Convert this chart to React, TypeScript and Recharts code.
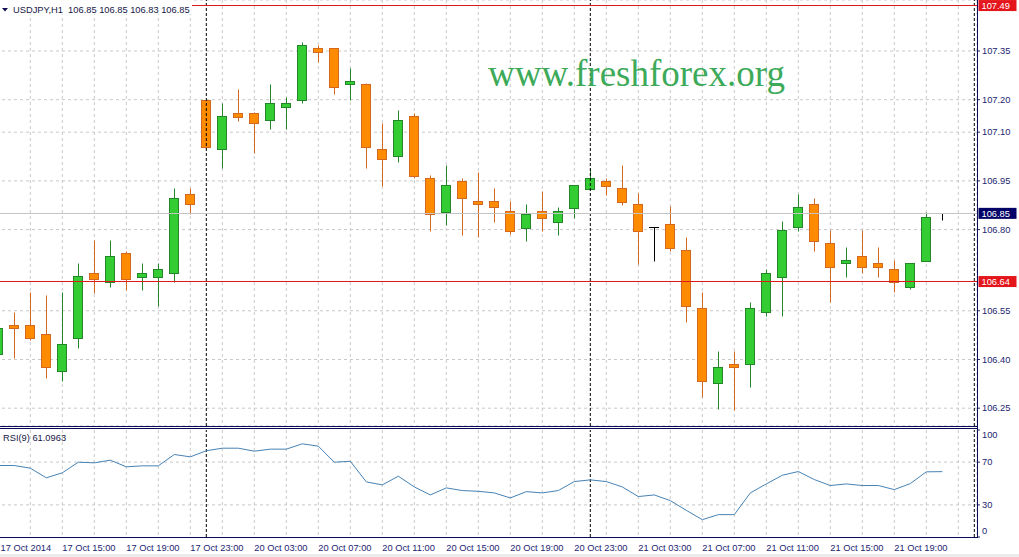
import React from 'react';
import { ComposedChart, Bar, Line, XAxis, YAxis, CartesianGrid, ReferenceLine } from 'recharts';

// ---------- data (USDJPY H1, 17 Oct 2014 11:00 .. 21 Oct 2014 22:00) ----------
const symbol = 'USDJPY,H1';
const rsiPeriod = 9;

const opens = [
  106.417, 106.506, 106.506, 106.478, 106.365, 106.465, 106.665, 106.638, 106.727, 106.655,
  106.655, 106.665, 106.910, 107.199, 107.047, 107.158, 107.158, 107.137, 107.177, 107.198,
  107.358, 107.358, 107.247, 107.248, 107.048, 107.028, 107.150, 106.958, 106.855, 106.950,
  106.888, 106.888, 106.857, 106.806, 106.857, 106.824, 106.867, 106.925, 106.950, 106.927,
  106.878, 106.807, 106.817, 106.737, 106.558, 106.327, 106.386, 106.385, 106.545, 106.655,
  106.807, 106.879, 106.758, 106.696, 106.719, 106.698, 106.678, 106.624, 106.704, 106.85,
];
const highs = [
  106.506, 106.547, 106.609, 106.599, 106.609, 106.696, 106.768, 106.768, 106.734, 106.696,
  106.696, 106.927, 106.927, 107.202, 107.191, 107.232, 107.162, 107.248, 107.207, 107.377,
  107.369, 107.360, 107.297, 107.250, 107.129, 107.168, 107.158, 106.968, 106.999, 106.958,
  106.978, 106.929, 106.888, 106.879, 106.919, 106.870, 106.937, 106.989, 106.958, 106.999,
  106.912, 106.807, 106.873, 106.778, 106.609, 106.426, 106.426, 106.576, 106.679, 106.826,
  106.910, 106.896, 106.799, 106.745, 106.799, 106.745, 106.706, 106.696, 106.855, 106.85,
];
const lows = [
  106.408, 106.405, 106.460, 106.344, 106.335, 106.436, 106.606, 106.624, 106.614, 106.614,
  106.566, 106.639, 106.847, 107.047, 106.989, 107.135, 107.037, 107.109, 107.109, 107.189,
  107.317, 107.217, 107.198, 106.989, 106.935, 107.007, 106.958, 106.797, 106.814, 106.783,
  106.776, 106.824, 106.785, 106.766, 106.796, 106.783, 106.835, 106.922, 106.907, 106.876,
  106.694, 106.704, 106.735, 106.516, 106.283, 106.247, 106.244, 106.316, 106.535, 106.535,
  106.797, 106.735, 106.576, 106.655, 106.665, 106.655, 106.607, 106.616, 106.704, 106.83,
];
const closes = [
  106.497, 106.497, 106.465, 106.376, 106.448, 106.657, 106.647, 106.719, 106.647, 106.665,
  106.679, 106.896, 106.878, 107.055, 107.150, 107.148, 107.127, 107.189, 107.189, 107.369,
  107.348, 107.238, 107.258, 107.055, 107.016, 107.138, 106.966, 106.847, 106.937, 106.896,
  106.878, 106.869, 106.797, 106.848, 106.837, 106.857, 106.937, 106.958, 106.935, 106.886,
  106.797, 106.807, 106.744, 106.566, 106.335, 106.376, 106.376, 106.558, 106.665, 106.799,
  106.869, 106.766, 106.686, 106.706, 106.686, 106.686, 106.638, 106.696, 106.838, 106.85,
];
const rsiValues = [
  66.8, 66.8, 64.3, 55.3, 60.0, 69.9, 69.3, 71.8, 65.6, 66.5,
  66.5, 77.1, 74.9, 80.6, 83.0, 83.0, 80.2, 82.1, 82.1, 87.1,
  84.9, 69.9, 70.8, 51.5, 48.7, 56.8, 46.8, 39.3, 45.9, 43.4,
  42.7, 41.2, 36.5, 42.4, 41.2, 43.4, 51.8, 53.4, 51.8, 46.8,
  37.8, 39.3, 34.0, 24.9, 16.2, 20.9, 20.9, 41.2, 49.6, 57.7,
  61.2, 53.7, 48.1, 49.6, 48.1, 48.1, 44.3, 49.9, 60.9, 61.0963,
];

const labelBars = [0, 4, 8, 12, 16, 20, 24, 28, 32, 36, 40, 44, 48, 52, 56];
const labelTexts = [
  '17 Oct 2014', '17 Oct 15:00', '17 Oct 19:00', '17 Oct 23:00', '20 Oct 03:00',
  '20 Oct 07:00', '20 Oct 11:00', '20 Oct 15:00', '20 Oct 19:00', '20 Oct 23:00',
  '21 Oct 03:00', '21 Oct 07:00', '21 Oct 11:00', '21 Oct 15:00', '21 Oct 19:00',
];
const gridBars = [0, 2, 4, 6, 8, 10, 12, 14, 16, 18, 20, 22, 24, 26, 28, 30, 32, 34, 36, 38, 40, 42, 44, 46, 48, 50, 52, 54, 56, 58, 60];
const separatorBars = [13, 37, 61];
const priceTicks = [107.35, 107.2, 107.1, 106.95, 106.8, 106.55, 106.4, 106.25];
const rsiTicks = [0, 30, 70, 100];
const rsiGridLevels = [30, 70];
const lineLevels = [107.49, 106.64];
const bidPrice = 106.85;
const watermark = 'www.freshforex.org';

const candles = opens.map((o, k) => ({ k, o, h: highs[k], l: lows[k], c: closes[k], range: [lows[k], highs[k]] }));
const rsiData = rsiValues.map((v, k) => ({ k, rsi: v }));

// ---------- layout ----------
const W = 1019;
const H = 557;
const AXIS_W = 42;
const BAR_PX = 16;
const FIRST_CENTER = -1.7;
const PLOT_LEFT = -16;
const PLOT_RIGHT = W - AXIS_W;
const xDomain: [number, number] = [(PLOT_LEFT - FIRST_CENTER) / BAR_PX, (PLOT_RIGHT - FIRST_CENTER) / BAR_PX];
const MAIN_H = 426;
const priceDomain: [number, number] = [106.1951, 107.5071];
const RSI_TOP = 428;
const RSI_H = H - RSI_TOP;

const NAVY = '#1c2470';
const FONT = "'Liberation Sans', Arial, sans-serif";
const GRID = '#c8c8c8';

function Candle(props: any) {
  const { x, y, width, height, payload } = props;
  if (x == null || y == null || !payload) return <g />;
  const { o, h, l, c } = payload;
  const top = Math.min(y, y + height);
  const span = Math.abs(height);
  const py = (p: number) => (h === l ? top : top + ((h - p) / (h - l)) * span);
  const n = Math.floor(x + width / 2);
  const cx = n + 0.5;
  const snap = (v: number) => Math.round(v) + 0.5;
  const yH = snap(py(h));
  const yL = snap(py(l));
  const yO = snap(py(o));
  const yC = snap(py(c));
  if (o === c) {
    return (
      <g>
        <line x1={cx} x2={cx} y1={yH} y2={yL} stroke="#000" />
        <line x1={n - 5} x2={n + 5} y1={yO} y2={yO} stroke="#000" />
      </g>
    );
  }
  const bull = c > o;
  const stroke = bull ? '#23862a' : '#d2691e';
  const fill = bull ? '#33cc33' : '#ff8c00';
  const bt = Math.min(yO, yC);
  const bb = Math.max(yO, yC);
  return (
    <g>
      <line x1={cx} x2={cx} y1={yH} y2={yL} stroke={stroke} />
      <rect x={n - 4.5} y={bt} width={9} height={Math.max(bb - bt, 1)} fill={fill} stroke={stroke} />
    </g>
  );
}

function PriceTick(props: any) {
  const { x, y, payload } = props;
  return (
    <text x={x} y={y} dy="0.35em" fontSize={9.3} fontFamily={FONT} fill={NAVY} textAnchor="start">
      {Number(payload.value).toFixed(2)}
    </text>
  );
}

function RsiTick(props: any) {
  const { x, y, payload } = props;
  const v = Number(payload.value);
  const shift = v === 100 ? 5 : v === 0 ? -6 : 0;
  return (
    <text x={x} y={y + shift} dy="0.35em" fontSize={9.3} fontFamily={FONT} fill={NAVY} textAnchor="start">
      {String(v)}
    </text>
  );
}

function TimeTick(props: any) {
  const { x, y, payload } = props;
  const i = labelBars.indexOf(Number(payload.value));
  if (i < 0) return <g />;
  return (
    <text x={Math.max(x, 0.5)} y={y + 13.5} fontSize={9.3} fontFamily={FONT} fill={NAVY} textAnchor="start">
      {labelTexts[i]}
    </text>
  );
}

function LevelBox(props: any) {
  const { viewBox, text, bg } = props;
  if (!viewBox) return <g />;
  const x = viewBox.x + viewBox.width + 1.5;
  const y = viewBox.y;
  return (
    <g>
      <rect x={x} y={y - 5.5} width={38} height={11} fill={bg} />
      <text x={x + 3} y={y} dy="0.35em" fontSize={9.3} fontFamily={FONT} fill="#ffffff">
        {text}
      </text>
    </g>
  );
}

export default function App() {
  const last = candles[candles.length - 1];
  const header = `${symbol}  ${last.o.toFixed(2)} ${last.h.toFixed(2)} ${last.l.toFixed(2)} ${last.c.toFixed(2)}`;
  const rsiLabel = `RSI(${rsiPeriod}) ${rsiValues[rsiValues.length - 1].toFixed(4)}`;
  return (
    <div style={{ position: 'absolute', left: 0, top: 0, width: W, height: H, background: '#ffffff', overflow: 'hidden' }}>
      <div style={{ position: 'absolute', left: 0, top: 0 }}>
        <ComposedChart width={W} height={MAIN_H} data={candles} margin={{ top: 0, right: 0, bottom: 0, left: PLOT_LEFT }}>
          <CartesianGrid stroke={GRID} strokeDasharray="3 3" />
          <XAxis
            dataKey="k"
            type="number"
            domain={xDomain}
            allowDataOverflow
            ticks={gridBars}
            interval={0}
            hide
          />
          <YAxis
            orientation="right"
            width={AXIS_W}
            type="number"
            domain={priceDomain}
            allowDataOverflow
            ticks={priceTicks}
            interval={0}
            axisLine={false}
            tickLine={{ stroke: NAVY }}
            tickSize={3}
            tickMargin={2}
            tick={<PriceTick />}
          />
          {separatorBars.map((b) => (
            <ReferenceLine key={`s${b}`} x={b} stroke="#000000" strokeDasharray="3 2" />
          ))}
          <ReferenceLine
            y={bidPrice}
            stroke="#c4c4c4"
            shapeRendering="crispEdges"
            label={<LevelBox text={bidPrice.toFixed(2)} bg="#000066" />}
          />
          {lineLevels.map((lv) => (
            <ReferenceLine
              key={`l${lv}`}
              y={lv}
              stroke="#e01818"
              shapeRendering="crispEdges"
              label={<LevelBox text={lv.toFixed(2)} bg="#e4151b" />}
            />
          ))}
          <Bar dataKey="range" barSize={10} isAnimationActive={false} shape={(p: any) => <Candle {...p} />} />
        </ComposedChart>
      </div>
      <div style={{ position: 'absolute', left: 0, top: RSI_TOP }}>
        <ComposedChart width={W} height={RSI_H} data={rsiData} margin={{ top: 2, right: 0, bottom: 0, left: PLOT_LEFT }}>
          <CartesianGrid stroke={GRID} strokeDasharray="3 3" horizontal={false} />
          <XAxis
            dataKey="k"
            type="number"
            domain={xDomain}
            allowDataOverflow
            ticks={gridBars}
            interval={0}
            height={20}
            axisLine={false}
            tickLine={false}
            tickSize={0}
            tickMargin={0}
            tick={<TimeTick />}
          />
          <YAxis
            orientation="right"
            width={AXIS_W}
            type="number"
            domain={[0, 100]}
            ticks={rsiTicks}
            interval={0}
            axisLine={false}
            tickLine={{ stroke: NAVY }}
            tickSize={3}
            tickMargin={2}
            tick={<RsiTick />}
          />
          {rsiGridLevels.map((lv) => (
            <ReferenceLine key={`g${lv}`} y={lv} stroke={GRID} strokeDasharray="3 3" />
          ))}
          {separatorBars.map((b) => (
            <ReferenceLine key={`s${b}`} x={b} stroke="#000000" strokeDasharray="3 2" />
          ))}
          <Line dataKey="rsi" type="linear" stroke="#4682b4" strokeWidth={1} dot={false} isAnimationActive={false} />
        </ComposedChart>
      </div>
      <svg width={W} height={H} style={{ position: 'absolute', left: 0, top: 0, pointerEvents: 'none' }}>
        <rect x={0} y={0} width={192} height={14} fill="#ffffff" />
        <polygon points="2,8 8,8 5,11.5" fill="#101050" />
        <text x={13} y={13} fontSize={9.3} fontFamily={FONT} fill="#151545" xmlSpace="preserve" style={{ whiteSpace: 'pre' }}>{header}</text>
        <text x={3} y={441} fontSize={9.3} fontFamily={FONT} fill="#151545">{rsiLabel}</text>
        <text x={488} y={86} fontSize={37} fontFamily="'Liberation Serif', 'Times New Roman', serif" fill="#3daa5a">{watermark}</text>
        <line x1={0} x2={978} y1={426.5} y2={426.5} stroke="#0a0a5a" />
        <line x1={0} x2={978} y1={428.5} y2={428.5} stroke="#0a0a5a" />
        <line x1={0} x2={978} y1={537.5} y2={537.5} stroke="#0a0a5a" />
        <line x1={977.5} x2={977.5} y1={0} y2={538} stroke="#0a0a5a" />
        <rect x={0} y={554} width={W} height={3} fill="#ececec" />
      </svg>
    </div>
  );
}
